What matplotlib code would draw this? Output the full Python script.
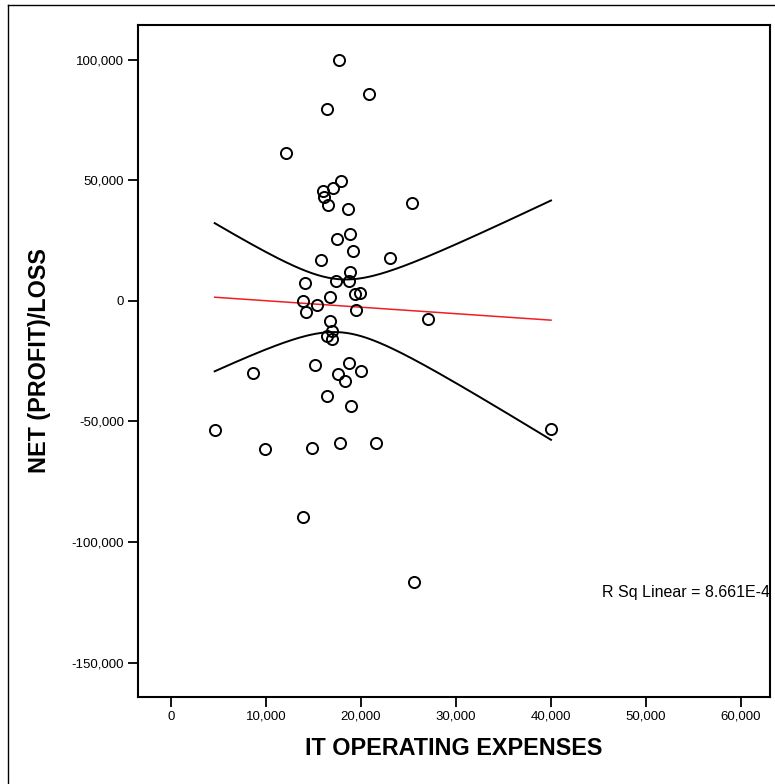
import numpy as np
import matplotlib
matplotlib.use("Agg")
import matplotlib.pyplot as plt
from matplotlib.lines import Line2D

# IT operating expenses vs. net (profit)/loss, one point per company
it_expenses = [
    17650, 20880, 16450, 12070, 17930, 17090, 16030, 16140, 16530, 18630,
    25330, 18840, 17510, 19190, 15820, 23050, 18880, 14140, 17400, 18700,
    19350, 19870, 16740, 13930, 15420, 14210, 19510, 27020, 16760, 16960,
    16430, 17000, 8670, 15210, 18690, 17560, 19980, 18300, 16460, 18910,
    4600, 9890, 14880, 17750, 21550, 13860, 40000, 25580,
]
net_profit_loss = [
    99800, 86000, 79800, 61300, 49800, 47000, 45700, 43100, 39800, 38300,
    40800, 27800, 25600, 20900, 16800, 18000, 12200, 7500, 8400, 8200,
    2950, 3400, 1500, 100, -1800, -4400, -3600, -7400, -8300, -12500,
    -14500, -15900, -29700, -26600, -25800, -30300, -29200, -33200, -39400, -43600,
    -53700, -61500, -61000, -59100, -58900, -89500, -53300, -116700,
]
x_ticks = [0, 10000, 20000, 30000, 40000, 50000, 60000]
y_ticks = [-150000, -100000, -50000, 0, 50000, 100000]
r_sq_label = "R Sq Linear = 8.661E-4"
t_crit = 1.6787  # two-sided 90%, df = 46

x = np.array(it_expenses, dtype=float)
y = np.array(net_profit_loss, dtype=float)

# least-squares fit and confidence band for the mean
n = len(x)
xbar, ybar = x.mean(), y.mean()
sxx = np.sum((x - xbar) ** 2)
slope = np.sum((x - xbar) * (y - ybar)) / sxx
intercept = ybar - slope * xbar
resid = y - (intercept + slope * x)
s = np.sqrt(np.sum(resid ** 2) / (n - 2))
xs = np.linspace(x.min(), x.max(), 200)
fit = intercept + slope * xs
half = t_crit * s * np.sqrt(1.0 / n + (xs - xbar) ** 2 / sxx)

plt.rcParams["font.family"] = ["Liberation Sans", "DejaVu Sans"]

W, H = 775, 784
fig = plt.figure(figsize=(W / 100, H / 100), dpi=100)
ax = fig.add_axes([138 / W, 1 - 697 / H, (770 - 138) / W, (697 - 25) / H])

# outer chart frame
fig.add_artist(Line2D([8 / W, 8 / W], [0, 1 - 5 / H], color="black", lw=1.0,
                      transform=fig.transFigure))
fig.add_artist(Line2D([8 / W, 1], [1 - 5 / H, 1 - 5 / H], color="black", lw=1.0,
                      transform=fig.transFigure))

ax.plot(xs, fit + half, color="black", lw=1.4, zorder=2)
ax.plot(xs, fit - half, color="black", lw=1.4, zorder=2)
ax.plot(xs, fit, color="#f01e23", lw=1.1, zorder=2)
ax.plot(x, y, linestyle="none", marker="o", markersize=8, markerfacecolor="none",
        markeredgecolor="black", markeredgewidth=1.4, zorder=3)

ax.set_xlim(-3470, 63050)
ax.set_ylim(-164300, 114500)
ax.set_xticks(x_ticks)
ax.set_yticks(y_ticks)
ax.set_xticklabels([f"{v:,}" for v in x_ticks])
ax.set_yticklabels([f"{v:,}" for v in y_ticks])
ax.tick_params(axis="both", direction="out", length=7, width=1.3, labelsize=9.5,
               pad=3, top=False, right=False)
for sp in ax.spines.values():
    sp.set_linewidth(1.5)

ax.set_xlabel("IT OPERATING EXPENSES", fontsize=16.8, fontweight="bold",
              labelpad=10)
ax.set_ylabel("NET (PROFIT)/LOSS", fontsize=16.8, fontweight="bold",
              labelpad=15)

ax.text(45370, -120750, r_sq_label, fontsize=11.5, va="center", ha="left",
        clip_on=True)

fig.savefig("out.png", dpi=100)
